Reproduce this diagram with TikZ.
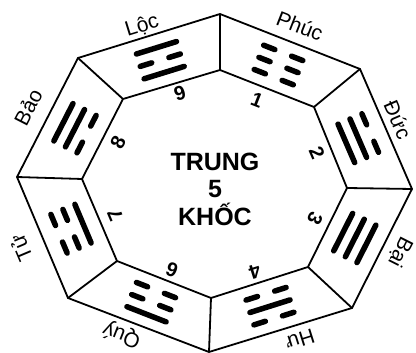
\documentclass[tikz,border=0pt]{standalone}
\usepackage{fontspec}
\setmainfont{Liberation Sans}
\tikzset{
  edge/.style={line width=1.8pt},
  bar/.style={line width=5.5pt,line cap=round},
  num/.style={font=\bfseries\fontsize{20}{20}\selectfont,inner sep=0pt},
  lbl/.style={font=\fontsize{21}{21}\selectfont,inner sep=0pt},
}
% one line of a trigram: #1 offset, #2 = 1 solid / 0 broken
\newcommand{\yao}[2]{%
  \ifnum#2=1 \draw[bar] (-21,#1) -- (21,#1);
  \else \draw[bar] (-21,#1) -- (-9,#1); \draw[bar] (9,#1) -- (21,#1); \fi}
% trigram at (#1,#2) turned by #3, lines from the inside out
\newcommand{\trigram}[6]{%
  \begin{scope}[shift={(#1,#2)},rotate=#3]
    \yao{-13}{#4}\yao{0}{#5}\yao{13}{#6}
  \end{scope}}
\begin{document}
\begin{tikzpicture}[x=1pt,y=1pt]
\useasboundingbox (0,0) rectangle (416,353);
% outer ring
\coordinate (o1) at (220,339);
\coordinate (o2) at (360,284);
\coordinate (o3) at (412,164);
\coordinate (o4) at (352,45);
\coordinate (o5) at (209,1);
\coordinate (o6) at (68,55);
\coordinate (o7) at (17,176);
\coordinate (o8) at (78,295);
% inner ring
\coordinate (i1) at (220,283);
\coordinate (i2) at (314,246);
\coordinate (i3) at (347,165);
\coordinate (i4) at (308,86);
\coordinate (i5) at (211,55);
\coordinate (i6) at (117,92);
\coordinate (i7) at (82,174);
\coordinate (i8) at (123,254);
\draw[edge] (o1) -- (o2) -- (o3) -- (o4) -- (o5) -- (o6) -- (o7) -- (o8) -- cycle;
\draw[edge] (i1) -- (i2) -- (i3) -- (i4) -- (i5) -- (i6) -- (i7) -- (i8) -- cycle;
\foreach \k in {1,...,8} \draw[edge] (o\k) -- (i\k);
% trigrams
\trigram{278.5}{288}{-21.4}{0}{0}{0}
\trigram{358.3}{214.8}{-66.6}{1}{1}{0}
\trigram{354.8}{115}{-116.8}{1}{1}{1}
\trigram{270}{46.8}{-162.5}{0}{1}{0}
\trigram{151.3}{50.8}{158.7}{0}{0}{1}
\trigram{71}{124.3}{112.9}{1}{0}{0}
\trigram{75}{224.8}{62.9}{0}{1}{1}
\trigram{160.3}{292.8}{17.2}{1}{0}{1}
% numbers
\node[num,rotate=-21.4] (n1) at (257,253) {1};
\node[num,rotate=-66.6] (n2) at (317,200) {2};
\node[num,rotate=-116.8] (n3) at (315,134) {3};
\node[num,rotate=-162.5] (n4) at (255,81) {4};
\node[num,rotate=158.7] (n6) at (172,83) {6};
\node[num,rotate=112.9] (n7) at (115,138) {7};
\node[num,rotate=62.9] (n8) at (118,211) {8};
\node[num,rotate=17.2] (n9) at (180,260) {9};
% names
\node[lbl,rotate=-21.4] (phuc) at (300,327) {Phúc};
\node[lbl,rotate=-66.6] (duc) at (398,233) {Đức};
\node[lbl,rotate=-116.8] (bai) at (400,101) {Bại};
\node[lbl,rotate=-162.5] (hu) at (300,13) {Hư};
\node[lbl,rotate=158.7] (quy) at (122,18) {Quý};
\node[lbl,rotate=112.9] (tu) at (21,105) {Tử};
\node[lbl,rotate=62.9] (bao) at (28,246) {Bảo};
\node[lbl,rotate=17.2] (loc) at (142,327) {Lộc};
% centre
\node[align=center,font=\bfseries\fontsize{25}{27.5}\selectfont] (mid) at (215,164) {TRUNG\\5\\KHỐC};
\end{tikzpicture}
\end{document}
